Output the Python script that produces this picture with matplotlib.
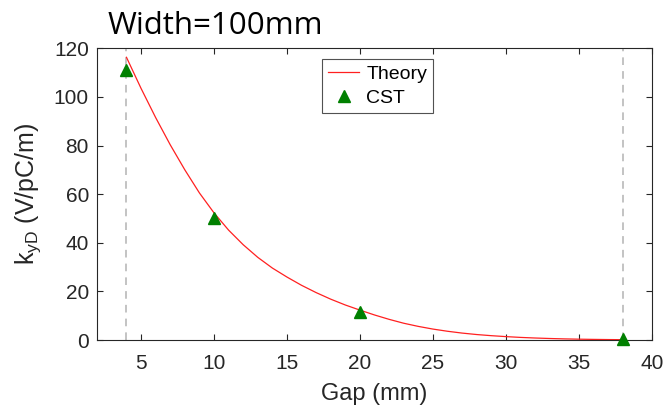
import matplotlib
matplotlib.use('Agg')
import matplotlib.pyplot as plt

# theory curve, read at integer gaps (mm)
gap_theory = list(range(4, 39))
k_theory = [116.3, 103.5, 91.5, 80.3, 70.0, 60.5, 52.3, 45.2, 39.2, 34.0,
            29.6, 25.9, 22.5, 19.5, 16.8, 14.4, 12.3, 10.3, 8.5, 6.9,
            5.6, 4.5, 3.6, 2.85, 2.25, 1.78, 1.4, 1.07, 0.82, 0.62,
            0.46, 0.34, 0.25, 0.18, 0.13]

# CST simulation points
gap_cst = [4, 10, 20, 38]
k_cst = [111.0, 50.0, 11.5, 0.3]

# limits of the scanned range
gap_limits = [4, 38]

plt.rcParams['font.family'] = ['Liberation Sans', 'DejaVu Sans']
plt.rcParams['mathtext.fontset'] = 'custom'
plt.rcParams['mathtext.rm'] = 'Liberation Sans'
ink = '#262626'

fig = plt.figure(figsize=(6.65, 4.09), dpi=100)
ax = fig.add_axes([0.1463, 0.1687, 0.8337, 0.7132])

for g in gap_limits:
    ax.axvline(g, color='#b3b3b3', ls=(0, (5, 4)), lw=1.1, zorder=1)

ax.plot(gap_theory, k_theory, color='#ff2020', lw=0.9, label='Theory', zorder=2)
ax.plot(gap_cst, k_cst, ls='none', marker='^', ms=8, color='#008000',
        mec='#008000', label='CST', zorder=3, clip_on=False)

ax.set_xlim(2, 40)
ax.set_ylim(0, 120)
ax.set_xticks(range(5, 41, 5))
ax.set_yticks(range(0, 121, 20))
ax.tick_params(direction='in', length=4, width=0.8, colors=ink, labelsize=15,
               top=True, right=True)
ax.tick_params(axis='x', pad=10)
ax.tick_params(axis='y', pad=6)
for s in ax.spines.values():
    s.set_color(ink)
    s.set_linewidth(0.8)

ax.set_xlabel('Gap (mm)', fontsize=17, color=ink, labelpad=7)
ax.set_ylabel(r'k$_{\mathrm{yD}}$ (V/pC/m)', fontsize=18, color=ink, labelpad=8)

leg = ax.legend(loc='upper left', bbox_to_anchor=(0.406, 0.963), fontsize=14,
                frameon=True, fancybox=False, edgecolor=ink, handlelength=1.6,
                handletextpad=0.35, borderpad=0.3, labelspacing=0.35,
                borderaxespad=0)
leg.get_frame().set_linewidth(0.8)

fig.text(0.161, 0.917, 'Width=100mm', fontsize=22.5, family='Open Sans',
         color='black', ha='left', va='baseline')

fig.savefig('out.png', dpi=100)
